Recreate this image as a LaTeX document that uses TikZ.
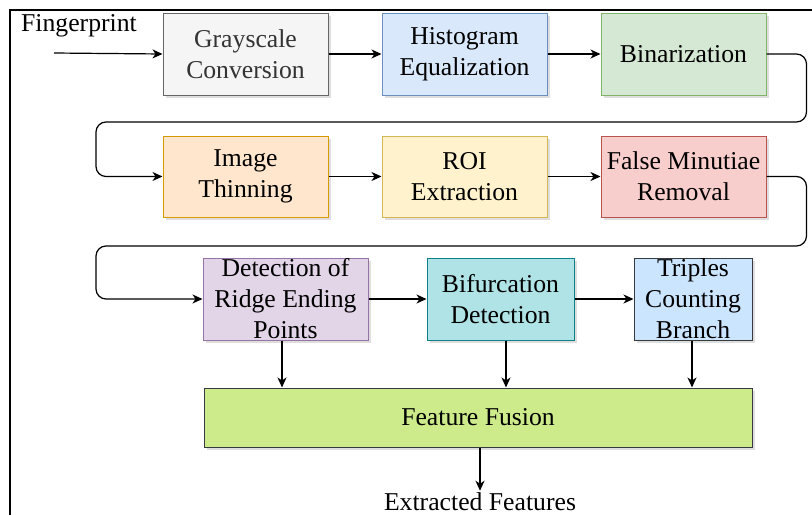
\documentclass[tikz,border=0pt]{standalone}
\usepackage{fontspec}
\setmainfont{Liberation Serif}
\usetikzlibrary{arrows.meta,shadows}

\definecolor{grayF}{HTML}{F5F5F5}\definecolor{grayD}{HTML}{666666}
\definecolor{blueF}{HTML}{DAE8FC}\definecolor{blueD}{HTML}{6C8EBF}
\definecolor{greenF}{HTML}{D5E8D4}\definecolor{greenD}{HTML}{82B366}
\definecolor{orangeF}{HTML}{FFE6CC}\definecolor{orangeD}{HTML}{D79B00}
\definecolor{yellowF}{HTML}{FFF2CC}\definecolor{yellowD}{HTML}{D6B656}
\definecolor{redF}{HTML}{F8CECC}\definecolor{redD}{HTML}{B85450}
\definecolor{purpleF}{HTML}{E1D5E7}\definecolor{purpleD}{HTML}{9673A6}
\definecolor{tealF}{HTML}{B0E3E6}\definecolor{tealD}{HTML}{0E8088}
\definecolor{skyF}{HTML}{CCE5FF}\definecolor{darkD}{HTML}{36393D}
\definecolor{limeF}{HTML}{CDEB8B}
\definecolor{txtgray}{HTML}{333333}
\definecolor{shadowC}{HTML}{BDBDBD}

\begin{document}
\begin{tikzpicture}[x=1pt,y=-1pt,
  font=\fontsize{25.7}{31}\selectfont,
  box/.style={draw, line width=1pt, inner sep=0pt,
    minimum width=165pt, minimum height=82pt,
    drop shadow={shadow xshift=3pt, shadow yshift=-3pt, fill=shadowC, draw=none}},
  lbl/.style={align=center, inner sep=0pt},
  arr/.style={line width=1.2pt, -{Stealth[length=10pt,width=9pt,inset=3pt]}},
  loop/.style={arr, rounded corners=10pt}]
\useasboundingbox (0,0) rectangle (812,515);

% outer frame (open to the right and bottom)
\draw[line width=2pt] (10,515) -- (10,10) -- (812,10);

% boxes
\node[box, fill=grayF, draw=grayD] (gray) at (245.5,54) {};
\node[box, fill=blueF, draw=blueD] (hist) at (464.5,54) {};
\node[box, fill=greenF, draw=greenD] (bin) at (683.5,54) {};
\node[box, fill=orangeF, draw=orangeD, minimum height=81pt] (thin) at (245.5,176.5) {};
\node[box, fill=yellowF, draw=yellowD, minimum height=81pt] (roi) at (464.5,176.5) {};
\node[box, fill=redF, draw=redD, minimum height=81pt] (fmr) at (683.5,176.5) {};
\node[box, fill=purpleF, draw=purpleD] (det) at (285.5,299) {};
\node[box, fill=tealF, draw=tealD, minimum width=147pt] (bif) at (500.5,299) {};
\node[box, fill=skyF, draw=darkD, minimum width=118pt] (tri) at (693,299) {};
\node[box, fill=limeF, draw=darkD, minimum width=548pt, minimum height=59pt] (fus) at (478,417.5) {};

% box texts
\node[lbl, text=txtgray] (grayT) at (gray) {Grayscale\\Conversion};
\node[lbl] (histT) at (hist) {Histogram\\Equalization};
\node[lbl] (binT) at (bin) {Binarization};
\node[lbl] (thinT) at (thin) {Image\\Thinning};
\node[lbl] (roiT) at (roi) {ROI\\Extraction};
\node[lbl] (fmrT) at (fmr) {False Minutiae\\Removal};
\node[lbl] (detT) at (det) {Detection of\\Ridge Ending\\Points};
\node[lbl] (bifT) at (bif) {Bifurcation\\Detection};
\node[lbl] (triT) at (tri) {Triples\\Counting\\Branch};
\node[lbl] (fusT) at (fus) {Feature Fusion};

% input and output
\node[inner sep=0pt] (fp) at (79,26) {Fingerprint};
\coordinate (fpin) at (54,53);
\node[inner sep=2pt] (ef) at (480,502) {Extracted Features};

% turning points of the row-to-row links
\coordinate (turn1) at (96,122);
\coordinate (turn2) at (96,246);

% connectors
\draw[arr] (fpin) -- (gray.west);
\draw[arr] (gray) -- (hist);
\draw[arr] (hist) -- (bin);
\draw[loop] (bin.east) -- ++(40,0) |- (turn1) |- (thin.west);
\draw[arr] (thin) -- (roi);
\draw[arr] (roi) -- (fmr);
\draw[loop] (fmr.east) -- ++(40,0) |- (turn2) |- (det.west);
\draw[arr] (det) -- (bif);
\draw[arr] (bif) -- (tri);
\draw[arr] ([xshift=-3.5pt]det.south) -- ([xshift=-3.5pt]det.south |- fus.north);
\draw[arr] ([xshift=5.5pt]bif.south) -- ([xshift=5.5pt]bif.south |- fus.north);
\draw[arr] ([xshift=-1pt]tri.south) -- ([xshift=-1pt]tri.south |- fus.north);
\draw[arr] (fus.south -| ef.north) -- (ef.north);
\end{tikzpicture}
\end{document}
